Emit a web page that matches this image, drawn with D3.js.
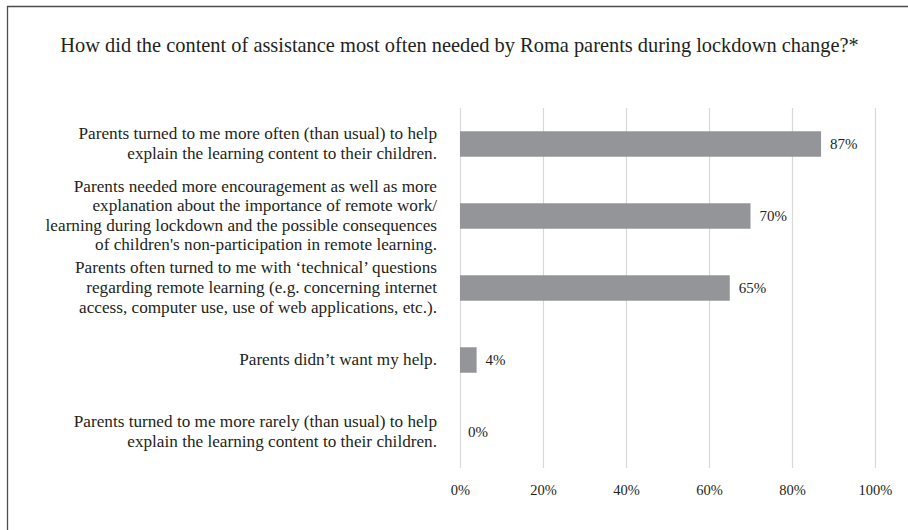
<!DOCTYPE html>
<html>
<head>
<meta charset="utf-8">
<script src="https://cdn.jsdelivr.net/npm/d3@7"></script>
<style>
  html, body { margin: 0; padding: 0; background: #fff; }
  svg { display: block; }
  text { font-family: "Liberation Serif", "DejaVu Serif", serif; fill: #231f20; }
</style>
</head>
<body>
<svg id="chart" width="908" height="530"></svg>
<script>
// Survey answers (line breaks mark how each answer wraps)
const categories = [
  "Parents turned to me more often (than usual) to help\nexplain the learning content to their children.",
  "Parents needed more encouragement as well as more\nexplanation about the importance of remote work/\nlearning during lockdown and the possible consequences\nof children's non-participation in remote learning.",
  "Parents often turned to me with \u2018technical\u2019 questions\nregarding remote learning (e.g. concerning internet\naccess, computer use, use of web applications, etc.).",
  "Parents didn\u2019t want my help.",
  "Parents turned to me more rarely (than usual) to help\nexplain the learning content to their children."
];
const values = [87, 70, 65, 4, 0];
const tickValues = [0, 20, 40, 60, 80, 100];
const title = "How did the content of assistance most often needed by Roma parents during lockdown change?*";

const svg = d3.select("#chart");
const W = 908, H = 530;
const plot = { left: 460, right: 875, top: 108, bottom: 468 };

// frame
svg.append("path")
  .attr("d", `M7.5,${H} V6.5 H${W}`)
  .attr("fill", "none")
  .attr("stroke", "#4d4d4f")
  .attr("stroke-width", 1.3);

// title
svg.append("text")
  .attr("x", 459.5)
  .attr("y", 52)
  .attr("text-anchor", "middle")
  .style("font-size", "20.4px")
  .text(title);

const x = d3.scaleLinear().domain([0, 100]).range([plot.left, plot.right]);
const y = d3.scaleBand()
  .domain(d3.range(categories.length))
  .range([plot.top, plot.bottom])
  .paddingInner(0.646)
  .paddingOuter(0.323);

// vertical gridlines + percentage tick labels
const xAxis = d3.axisBottom(x)
  .tickValues(tickValues)
  .tickFormat(d => d + "%")
  .tickSizeInner(-(plot.bottom - plot.top))
  .tickSizeOuter(0)
  .tickPadding(17);

const gx = svg.append("g")
  .attr("transform", `translate(0,${plot.bottom})`)
  .call(xAxis);
gx.select(".domain").remove();
gx.selectAll(".tick line").attr("stroke", "#d9d9da").attr("stroke-width", 1.2);
gx.selectAll(".tick text")
  .attr("fill", "#231f20")
  .style("font-family", "'Liberation Serif', serif")
  .style("font-size", "14.5px");

// bars
svg.append("g").selectAll("rect")
  .data(values)
  .join("rect")
  .attr("x", x(0))
  .attr("y", (d, i) => y(i))
  .attr("width", d => x(d) - x(0))
  .attr("height", y.bandwidth())
  .attr("fill", "#939598");

// value labels
svg.append("g").selectAll("text")
  .data(values)
  .join("text")
  .attr("x", d => x(d) + (d === 0 ? 8 : 9))
  .attr("y", (d, i) => y(i) + y.bandwidth() / 2)
  .attr("dy", "0.35em")
  .style("font-size", "15px")
  .text(d => d + "%");

// category labels, right aligned next to the plot
const lineH = 19.6;
const labels = svg.append("g").selectAll("text")
  .data(categories)
  .join("text")
  .attr("text-anchor", "end")
  .style("font-size", "17.2px")
  .attr("transform", (d, i) => `translate(437,${y(i) + y.bandwidth() / 2 - 1})`);

labels.each(function(d) {
  const lines = d.split("\n");
  const t = d3.select(this);
  lines.forEach((ln, k) => {
    t.append("tspan")
      .attr("x", 0)
      .attr("y", (k - (lines.length - 1) / 2) * lineH)
      .attr("dy", "0.35em")
      .text(ln);
  });
});
</script>
</body>
</html>
